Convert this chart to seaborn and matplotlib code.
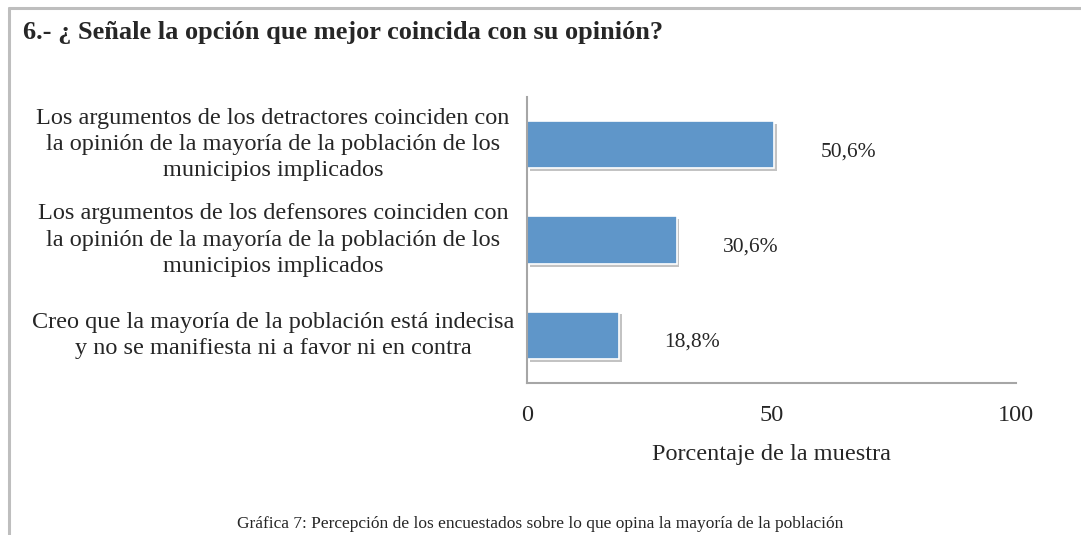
import matplotlib
matplotlib.use("Agg")
import matplotlib.pyplot as plt
import matplotlib.patheffects as pe
from matplotlib.lines import Line2D
import seaborn as sns
import pandas as pd

# data
categories = [
    "Los argumentos de los detractores coinciden con\nla opinión de la mayoría de la población de los\nmunicipios implicados",
    "Los argumentos de los defensores coinciden con\nla opinión de la mayoría de la población de los\nmunicipios implicados",
    "Creo que la mayoría de la población está indecisa\ny no se manifiesta ni a favor ni en contra",
]
values = [50.6, 30.6, 18.8]
value_labels = ["50,6%", "30,6%", "18,8%"]
x_ticks = [0, 50, 100]

title = "6.- ¿ Señale la opción que mejor coincida con su opinión?"
x_label = "Porcentaje de la muestra"
caption = "Gráfica 7: Percepción de los encuestados sobre lo que opina la mayoría de la población"

sns.set_style("white")
plt.rcParams["font.family"] = ["Liberation Serif", "DejaVu Serif"]

df = pd.DataFrame({"cat": categories, "val": values})

fig = plt.figure(figsize=(10.81, 5.35), dpi=100)
ax = fig.add_axes([0.4875, 0.2841, 0.4524, 0.5346])

sns.barplot(data=df, x="val", y="cat", orient="h", color="#5F96C9",
            saturation=1, width=0.5, edgecolor="white", linewidth=1.2, ax=ax)
for p in ax.patches:
    p.set_path_effects([pe.SimplePatchShadow(offset=(2, -2), shadow_rgbFace="#888888", alpha=0.5),
                        pe.Normal()])

for i, (v, lab) in enumerate(zip(values, value_labels)):
    ax.annotate(lab, xy=(v, i), xytext=(53, -5), textcoords="offset points",
                ha="center", va="center", fontsize=15.5)

ax.set_xlim(0, 100)
ax.set_ylim(2.5, -0.5)
ax.set_xticks(x_ticks)
ax.set_xticklabels([str(t) for t in x_ticks], fontsize=17.5)
ax.set_yticks(range(len(categories)))
ax.set_yticklabels([])
ax.tick_params(axis="y", which="major", length=0)
trans = ax.get_yaxis_transform()
for i, cat in enumerate(categories):
    ax.text(-0.519, i, cat, transform=trans, fontsize=17.5, ha="center", va="center",
            multialignment="center", linespacing=1.32, clip_on=False)
ax.set_yticks([-0.5, 0.5, 1.5, 2.5], minor=True)
ax.tick_params(axis="y", which="minor", length=6, color="#A6A6A6", width=1.5, direction="out")
ax.tick_params(axis="x", which="major", length=6, color="#A6A6A6", width=1.5, direction="out", pad=10)
ax.set_xlabel(x_label, fontsize=17.5, labelpad=13)
ax.set_ylabel("")

for s in ["top", "right"]:
    ax.spines[s].set_visible(False)
for s in ["left", "bottom"]:
    ax.spines[s].set_color("#A6A6A6")
    ax.spines[s].set_linewidth(1.5)

# outer frame (top and left only)
fig.add_artist(Line2D([0.0083, 1.0], [0.985, 0.985], color="#BEBEBE", lw=2.2, transform=fig.transFigure))
fig.add_artist(Line2D([0.0083, 0.0083], [0.0, 0.985], color="#BEBEBE", lw=2.2, transform=fig.transFigure))

fig.text(0.021, 0.94, title, fontsize=19, fontweight="bold", ha="left", va="center")
fig.text(0.5, 0.02, caption, fontsize=12.5, ha="center", va="center")

fig.savefig("out.png", dpi=100, facecolor="white")
